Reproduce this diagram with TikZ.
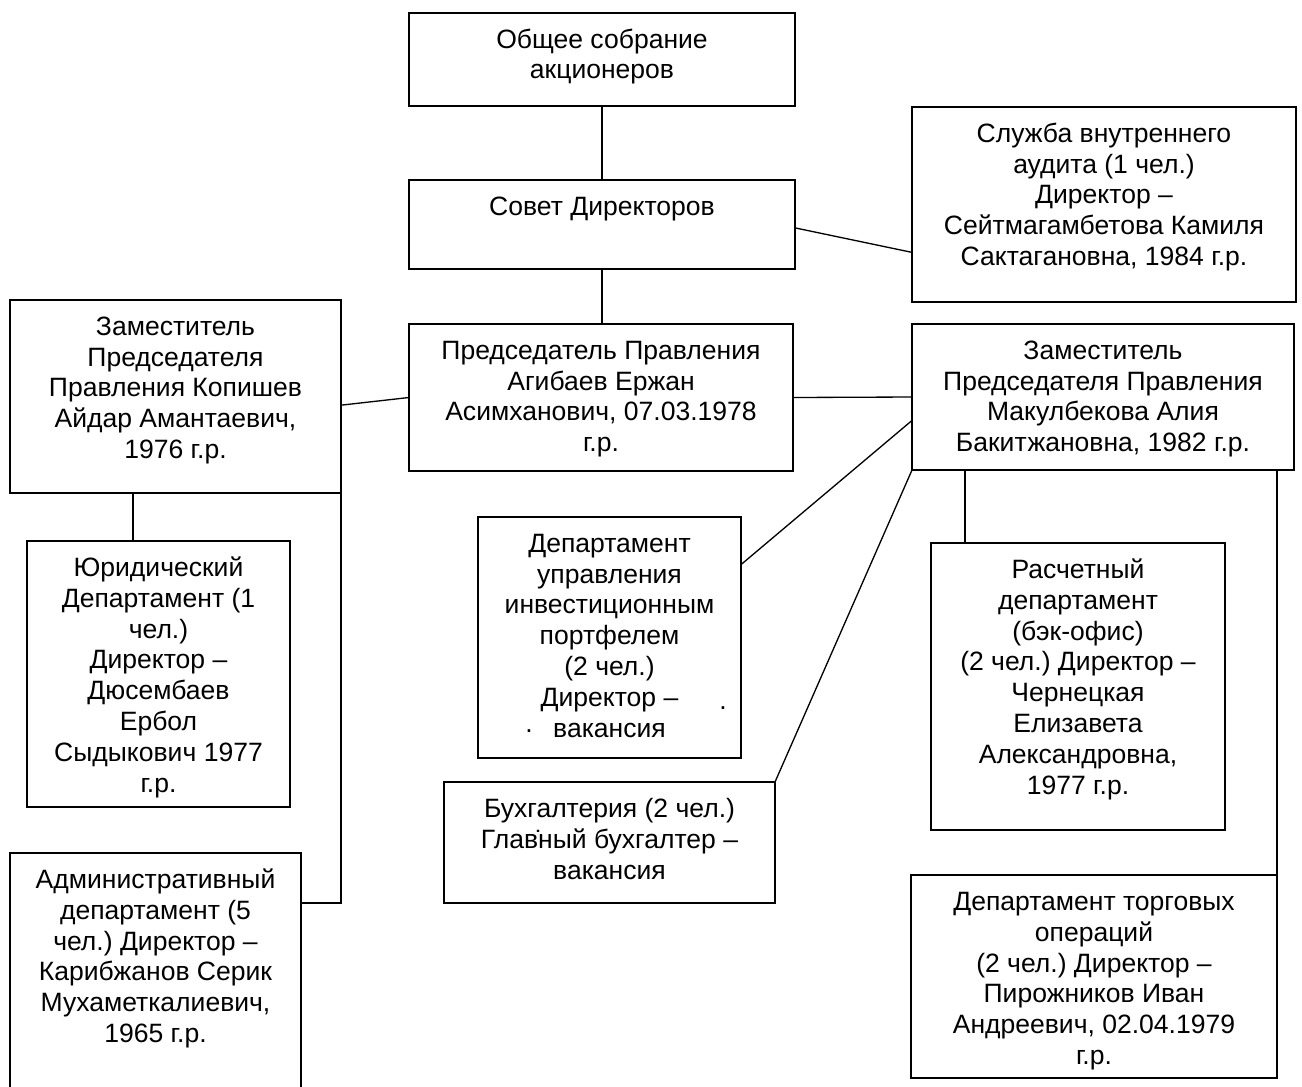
\documentclass[tikz,border=0pt]{standalone}
\usepackage{fontspec}
\setmainfont{Liberation Sans}
\usetikzlibrary{positioning}
\frenchspacing

\newdimen\pxu
\pxu=0.02cm
\newcommand{\boxfont}{\fontsize{15.1pt}{17.64pt}\selectfont}
% text block of a box: width, height (px), lines
\newcommand{\boxtext}[3]{\vbox to #2\pxu{\hsize=#1\pxu\centering\rule{0pt}{35\pxu}#3\par\vfill}}

\tikzset{
  orgbox/.style={draw, inner sep=0pt, outer sep=0pt, anchor=north west, font=\boxfont},
  stray/.style={inner sep=0pt, font=\boxfont}
}

\begin{document}
\begin{tikzpicture}[x=0.02cm, y=-0.02cm, line width=0.75pt]
            \useasboundingbox (0,0) rectangle (1302,1086);
            \node[orgbox] (obsh) at (409,13) {\boxtext{386}{93}{Общее собрание\\акционеров}};
            \node[orgbox] (sovet) at (409,180) {\boxtext{386}{89}{Совет Директоров}};
            \node[orgbox] (audit) at (912,107) {\boxtext{384}{195}{Служба внутреннего\\аудита (1 чел.)\\Директор –\\Сейтмагамбетова Камиля\\Сактагановна, 1984 г.р.}};
            \node[orgbox] (kop) at (10,300) {\boxtext{331}{193}{Заместитель\\Председателя\\Правления Копишев\\Айдар Амантаевич,\\1976 г.р.}};
            \node[orgbox] (pred) at (409,324) {\boxtext{384}{147}{Председатель Правления\\Агибаев Ержан\\Асимханович, 07.03.1978\\г.р.}};
            \node[orgbox] (mak) at (912,324) {\boxtext{382}{146}{Заместитель\\Председателя Правления\\Макулбекова Алия\\Бакитжановна, 1982 г.р.}};
            \node[orgbox] (yurid) at (27,541) {\boxtext{263}{266}{Юридический\\Департамент (1\\чел.)\\Директор –\\Дюсембаев\\Ербол\\Сыдыкович 1977\\г.р.}};
            \node[orgbox] (invest) at (478,517) {\boxtext{263}{241}{Департамент\\управления\\инвестиционным\\портфелем\\ (2 чел.)\\Директор –\\вакансия}};
            \node[orgbox] (rasch) at (931,543) {\boxtext{294}{287}{Расчетный\\департамент\\(бэк-офис)\\(2 чел.) Директор –\\Чернецкая\\Елизавета\\Александровна,\\1977 г.р.}};
            \node[orgbox] (bukh) at (444,782) {\boxtext{331}{121}{Бухгалтерия (2 чел.)\\Глав̇ный бухгалтер –\\вакансия}};
            \node[orgbox] (admin) at (10,853) {\boxtext{291}{242}{Административный\\департамент (5\\чел.) Директор –\\Карибжанов Серик\\Мухаметкалиевич,\\1965 г.р.}};
            \node[orgbox] (torg) at (911,875) {\boxtext{366}{203}{Департамент торговых\\операций\\(2 чел.) Директор –\\Пирожников Иван\\Андреевич, 02.04.1979\\г.р.}};
            \node[stray] (dotA) at (723,708) {.};
            \node[stray] (dotB) at (529,731) {.};
            \coordinate (makR) at ([xshift=53\pxu]mak.south west);
            \coordinate (kopY) at ([xshift=106\pxu]yurid.north west);
            \draw (obsh.south) -- (obsh.south |- sovet.north);
            \draw (sovet.south) -- (sovet.south |- pred.north);
            \draw (sovet.-1.5) -- (audit.194);
            \draw (kop.-3.3) -- (pred.west);
            \draw (pred.east) -- (mak.west);
            \draw (mak.187) -- (invest.29);
            \draw (mak.south west) -- (bukh.north east);
            \draw (makR) -- (makR |- rasch.north);
            \draw (torg.north east |- mak.south) -- (torg.north east);
            \draw (kopY) -- (kopY |- kop.south);
            \draw (kop.south east) |- ([yshift=-50\pxu]admin.north east);
        \end{tikzpicture}
\end{document}
